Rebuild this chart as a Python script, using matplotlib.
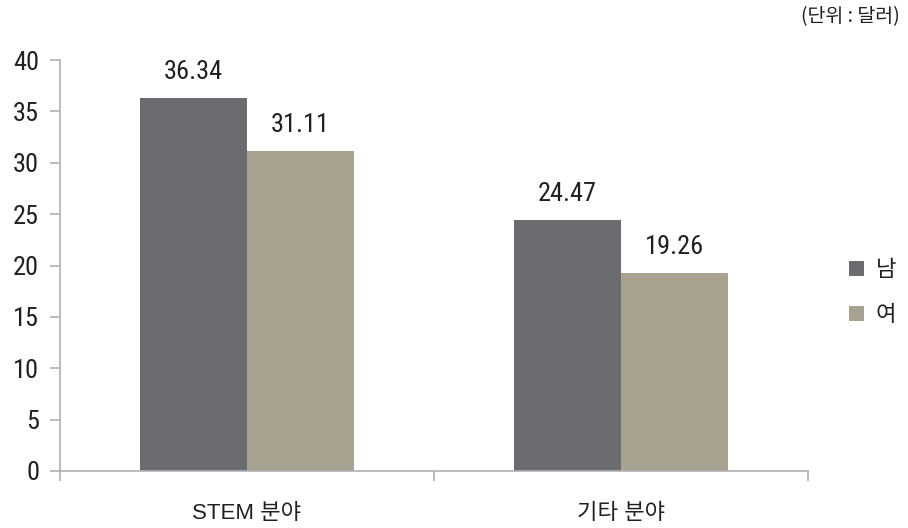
import numpy as np
import matplotlib.pyplot as plt

plt.rcParams['font.family'] = ['Roboto Condensed', 'Noto Sans CJK KR', 'DejaVu Sans']

categories = ["STEM 분야", "기타 분야"]
series_names = ["남", "여"]
men = [36.34, 24.47]
women = [31.11, 19.26]
yticks = [0, 5, 10, 15, 20, 25, 30, 35, 40]

col_men = '#6b6c70'
col_women = '#a8a290'
axis_col = '#b0b0b4'
txt_col = '#231f20'
kr = ['Noto Sans CJK KR', 'DejaVu Sans']
cat_font = ['Liberation Sans', 'Noto Sans CJK KR']

fig = plt.figure(figsize=(9.08, 5.28), dpi=100)
ax = fig.add_axes([60/908, 1-471/528, 748/908, 411/528])

x = np.arange(len(categories))
w = 0.286
b1 = ax.bar(x - w/2, men, w, color=col_men, label=series_names[0])
b2 = ax.bar(x + w/2, women, w, color=col_women, label=series_names[1])

for bars, vals in [(b1, men), (b2, women)]:
    for rect, v in zip(bars, vals):
        ax.annotate(f'{v:.2f}', (rect.get_x() + rect.get_width()/2, v),
                    xytext=(0, 10), textcoords='offset points',
                    ha='center', va='bottom', fontsize=19, color=txt_col)

ax.set_xlim(-0.5, 1.5)
ax.set_ylim(0, 40)
ax.set_yticks(yticks)
ax.set_yticklabels([str(t) for t in yticks], fontsize=19, color=txt_col)
ax.set_xticks([-0.5, 0.5, 1.5])
ax.set_xticklabels(['', '', ''])
ax.set_xticks(x, minor=True)
ax.set_xticklabels(categories, minor=True, fontsize=16, color=txt_col, family=cat_font)
ax.tick_params(axis='x', which='minor', length=0, pad=23)
ax.tick_params(axis='x', which='major', length=7, color=axis_col, width=1.2)
ax.tick_params(axis='y', length=7, color=axis_col, width=1.2, pad=8)

for s in ['top', 'right']:
    ax.spines[s].set_visible(False)
for s in ['left', 'bottom']:
    ax.spines[s].set_color(axis_col)
    ax.spines[s].set_linewidth(1.2)

leg = ax.legend(loc='center left', bbox_to_anchor=(1.028, 0.435), frameon=False,
                handlelength=0.7, handleheight=0.7, labelspacing=1.0,
                handletextpad=0.5, prop={'family': kr, 'size': 16})
for t in leg.get_texts():
    t.set_color(txt_col)

fig.text(0.991, 0.968, '(단위 : 달러)', ha='right', va='center', fontsize=14,
         family=kr, color=txt_col)

fig.savefig('out.png', dpi=100)
